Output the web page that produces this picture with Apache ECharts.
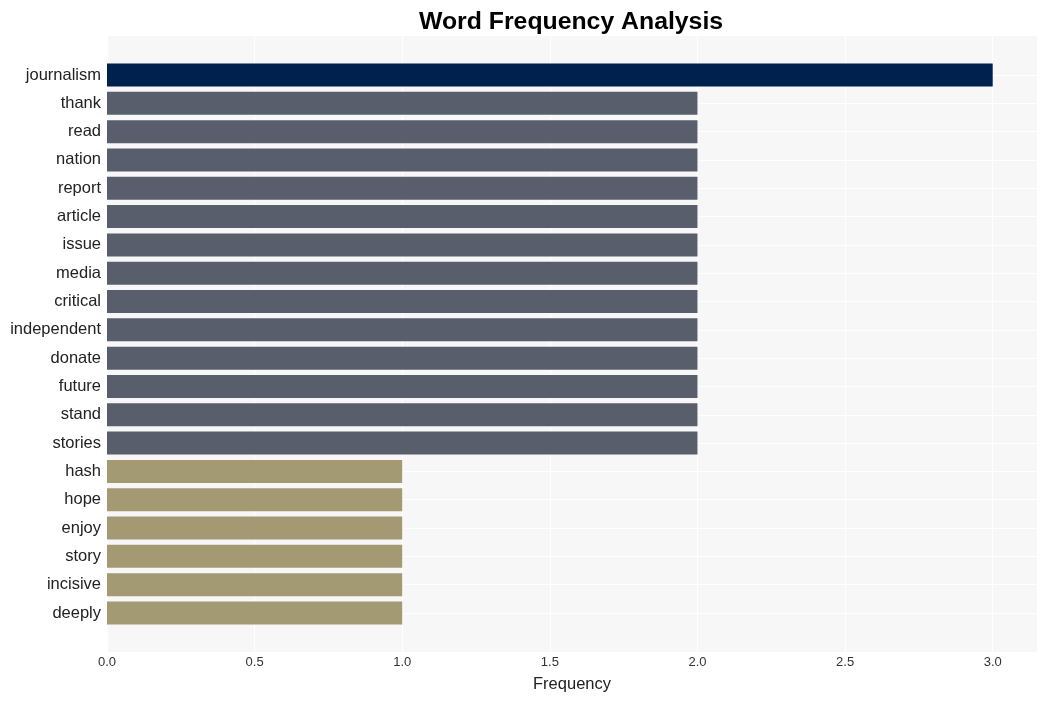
<!DOCTYPE html>
<html>
<head>
<meta charset="utf-8">
<script src="https://cdn.jsdelivr.net/npm/echarts@6/dist/echarts.min.js"></script>
<style>html,body{margin:0;padding:0;background:#fff}#c{width:1046px;height:701px}</style>
</head>
<body>
<div id="c"></div>
<script>
const categories = ["journalism","thank","read","nation","report","article","issue","media","critical","independent","donate","future","stand","stories","hash","hope","enjoy","story","incisive","deeply"];
const frequencies = [3,2,2,2,2,2,2,2,2,2,2,2,2,2,1,1,1,1,1,1];
const xTicks = [0,0.5,1,1.5,2,2.5,3];

const colorFor = v => v >= 3 ? '#00204d' : (v >= 2 ? '#595e6d' : '#a39a74');
const font = 'Liberation Sans, Arial, sans-serif';

const chart = echarts.init(document.getElementById('c'), null, {renderer:'canvas'});
chart.setOption({
  animation: false,
  backgroundColor: '#ffffff',
  title: {
    text: 'Word Frequency Analysis',
    left: 414, top: 5,
    textStyle: {fontFamily: font, fontWeight: 'bold', fontSize: 24.8, color: '#000'}
  },
  grid: [
    {left: 107, right: 9, top: 36, bottom: 49, show: true, backgroundColor: '#f7f7f7', borderWidth: 0},
    {left: 107, right: 9, top: 75, bottom: 88}
  ],
  xAxis: [
    {
      type: 'value', gridIndex: 0, min: 0, max: 3.15, interval: 0.5,
      name: 'Frequency', nameLocation: 'middle', nameGap: 24,
      nameTextStyle: {fontFamily: font, fontSize: 16.5, color: '#222'},
      axisLine: {show: false}, axisTick: {show: false},
      axisLabel: {
        margin: 4, fontFamily: font, fontSize: 13, color: '#333',
        showMaxLabel: false,
        formatter: v => xTicks.some(t => Math.abs(t - v) < 1e-9) ? v.toFixed(1) : ''
      },
      splitLine: {show: true, lineStyle: {color: '#ffffff', width: 1}}
    },
    {
      type: 'value', gridIndex: 1, min: 0, max: 3.15, show: false
    }
  ],
  yAxis: [
    {type: 'value', gridIndex: 0, min: 0, max: 1, show: false},
    {
      type: 'category', gridIndex: 1, data: categories, inverse: true, boundaryGap: false,
      axisLine: {show: false}, axisTick: {show: false},
      axisLabel: {margin: 6, fontFamily: font, fontSize: 16.5, color: '#222', interval: 0,
        backgroundColor: 'rgba(0,0,0,0)', padding: [4, 0, 0, 0]},
      splitLine: {show: true, interval: 0, lineStyle: {color: '#ffffff', width: 1}}
    }
  ],
  series: [{
    type: 'bar', xAxisIndex: 1, yAxisIndex: 1, clip: false,
    data: frequencies, barWidth: 23,
    itemStyle: {color: p => colorFor(p.value)}
  }]
});
</script>
</body>
</html>
